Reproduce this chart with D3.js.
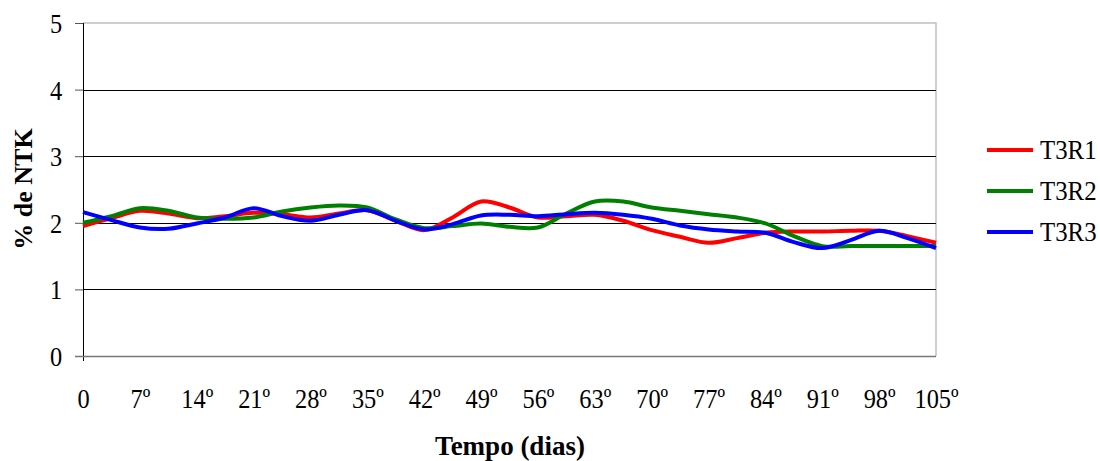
<!DOCTYPE html>
<html><head><meta charset="utf-8">
<script src="https://cdn.jsdelivr.net/npm/d3@7"></script>
<style>body{margin:0;background:#fff}svg{display:block}</style>
</head><body><svg id="c" width="1100" height="461"></svg>
<script>
// categories: measurement points every 3.5 days; only every other one is labelled
const categories = d3.range(31);
const tickLabels = ["0","7º","14º","21º","28º","35º","42º","49º","56º","63º","70º","77º","84º","91º","98º","105º"];
const seriesNames = ["T3R1","T3R2","T3R3"];
const T3R1 = [1.95,2.07,2.18,2.14,2.07,2.10,2.15,2.13,2.08,2.14,2.19,2.03,1.89,2.08,2.32,2.23,2.08,2.10,2.12,2.03,1.89,1.79,1.70,1.77,1.85,1.87,1.87,1.88,1.88,1.80,1.70];
const T3R2 = [2.00,2.10,2.22,2.18,2.08,2.06,2.08,2.17,2.23,2.26,2.23,2.05,1.92,1.95,1.99,1.94,1.93,2.14,2.32,2.32,2.23,2.18,2.13,2.08,1.99,1.80,1.65,1.65,1.65,1.65,1.65];
const T3R3 = [2.16,2.04,1.93,1.91,1.99,2.08,2.22,2.10,2.03,2.12,2.19,2.03,1.90,1.98,2.11,2.12,2.10,2.13,2.15,2.12,2.06,1.96,1.90,1.87,1.85,1.71,1.62,1.74,1.88,1.77,1.62];
const yTicks = [0,1,2,3,4,5];
const colors = ["#ff0000","#008000","#0000ff"];
const SERIF = "'Liberation Serif', 'Times New Roman', serif";

const svg = d3.select("#c").attr("font-family",SERIF);
const L=83, R=936, T=23, B=356;
const x = d3.scaleLinear().domain([0,30]).range([L,R]);
const y = d3.scaleLinear().domain([0,5]).range([B,T]);

// plot border (grey) top/right
svg.append("path").attr("d",`M${L},${T}H${R}V${B}`).attr("fill","none").attr("stroke","#c0c0c0").attr("stroke-width",1.5);
// gridlines
svg.append("g").selectAll("line").data(yTicks.filter(d=>d>0&&d<5)).join("line")
  .attr("x1",L).attr("x2",R).attr("y1",d=>Math.round(y(d))+0.5).attr("y2",d=>Math.round(y(d))+0.5)
  .attr("stroke","#000").attr("stroke-width",1);
// y axis
const yAxis = d3.axisLeft(y).tickValues(yTicks).tickSize(8).tickFormat(d3.format("d"));
const ga = svg.append("g").attr("transform",`translate(${L},0)`).call(yAxis);
ga.attr("font-family",SERIF);
ga.select(".domain").attr("stroke","#000").attr("d",`M0.5,${T}V${B+5}`);
ga.selectAll(".tick line").attr("stroke","#555");
ga.selectAll(".tick text").attr("x",-24).attr("dy","0.34em").style("font-size","28px").style("font-family",SERIF)
  .attr("fill","#000").attr("transform","scale(0.87,1)");
// x axis baseline
svg.append("line").attr("x1",L-8).attr("x2",R).attr("y1",B+0.5).attr("y2",B+0.5).attr("stroke","#777").attr("stroke-width",1.5);
// x labels
const xl = d3.scaleLinear().domain([0,15]).range([L,R]);
const xAxis = d3.axisBottom(xl).tickValues(d3.range(16)).tickSize(0).tickFormat(i=>tickLabels[i]);
const gx = svg.append("g").attr("transform",`translate(0,${B})`).call(xAxis);
gx.attr("font-family",SERIF);
gx.select(".domain").remove();
gx.selectAll(".tick text").attr("y",52).attr("dy",0).style("font-size","28px").style("font-family",SERIF)
  .attr("fill","#000").attr("transform","scale(0.87,1)");

// lines
const line = d3.line().x((d,i)=>x(categories[i])).y(d=>y(d)).curve(d3.curveCatmullRom.alpha(0.5));
[T3R1,T3R2,T3R3].forEach((s,k)=>{
  svg.append("path").datum(s).attr("d",line).attr("fill","none").attr("stroke",colors[k]).attr("stroke-width",4).attr("stroke-linejoin","round");
});

// axis titles
svg.append("text").attr("transform","translate(32,189) rotate(-90)").attr("text-anchor","middle")
  .style("font-family",SERIF).style("font-size","26px").style("font-weight","bold").text("% de NTK");
svg.append("text").attr("transform","translate(510,455)").attr("text-anchor","middle")
  .style("font-family",SERIF).style("font-size","27px").style("font-weight","bold").text("Tempo (dias)");

// legend
const lg = svg.append("g");
seriesNames.forEach((n,k)=>{
  const yy = 150 + k*41;
  lg.append("line").attr("x1",987).attr("x2",1033).attr("y1",yy).attr("y2",yy).attr("stroke",colors[k]).attr("stroke-width",4);
  lg.append("text").attr("transform",`translate(1040,${yy}) scale(0.92,1)`).attr("dy","0.34em")
    .style("font-family",SERIF).style("font-size","27px").text(n);
});
</script></body></html>
